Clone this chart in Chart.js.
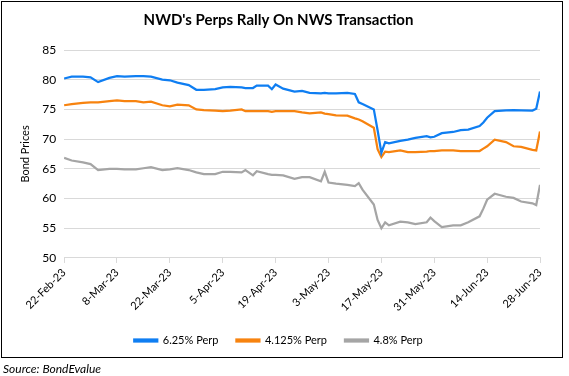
<!DOCTYPE html>
<html>
<head>
<meta charset="utf-8">
<script src="https://cdn.jsdelivr.net/npm/chart.js@4.4.0/dist/chart.umd.min.js"></script>
<style>
  html, body { margin: 0; padding: 0; background: #fff; }
  #wrap { width: 569px; height: 376px; position: relative; }
</style>
</head>
<body>
<div id="wrap"><canvas id="myChart" width="569" height="376"></canvas></div>
<script>
// trading days
const dates = [
  "2023-02-22","2023-02-24","2023-02-27","2023-03-01","2023-03-03","2023-03-06","2023-03-08","2023-03-10",
  "2023-03-13","2023-03-15","2023-03-17","2023-03-20","2023-03-22","2023-03-24","2023-03-27","2023-03-29",
  "2023-03-31","2023-04-03","2023-04-05","2023-04-07","2023-04-10","2023-04-11","2023-04-13","2023-04-14",
  "2023-04-17","2023-04-18","2023-04-19","2023-04-21","2023-04-24","2023-04-26","2023-04-28","2023-05-01",
  "2023-05-02","2023-05-03","2023-05-05","2023-05-08","2023-05-10","2023-05-11","2023-05-12","2023-05-15",
  "2023-05-16","2023-05-17","2023-05-18","2023-05-19","2023-05-22","2023-05-24","2023-05-26","2023-05-29",
  "2023-05-30","2023-05-31","2023-06-02","2023-06-05","2023-06-07","2023-06-09","2023-06-12","2023-06-13",
  "2023-06-14","2023-06-16","2023-06-19","2023-06-21","2023-06-23","2023-06-26","2023-06-27","2023-06-28"
];

const perp625 = [
  80.2, 80.5, 80.5, 80.4, 79.6, 80.3, 80.6, 80.5,
  80.6, 80.6, 80.5, 80.0, 79.9, 79.5, 79.1, 78.3,
  78.3, 78.4, 78.7, 78.8, 78.7, 78.6, 78.6, 79.0,
  79.0, 78.4, 79.2, 78.5, 78.0, 78.1, 77.8, 77.7,
  77.8, 77.7, 77.7, 77.8, 77.6, 76.2, 75.9, 75.0,
  71.5, 67.7, 69.5, 69.3, 69.7, 69.9, 70.2, 70.5,
  70.3, 70.4, 71.0, 71.2, 71.5, 71.6, 72.2, 72.8,
  73.6, 74.7, 74.85, 74.9, 74.85, 74.8, 75.1, 78.0
];

const perp4125 = [
  75.7, 75.9, 76.1, 76.2, 76.2, 76.4, 76.5, 76.4,
  76.4, 76.2, 76.3, 75.7, 75.5, 75.8, 75.7, 75.0,
  74.9, 74.8, 74.7, 74.8, 75.0, 74.7, 74.7, 74.7,
  74.7, 74.6, 74.7, 74.7, 74.7, 74.5, 74.35, 74.5,
  74.3, 74.2, 74.0, 73.95, 73.5, 73.3, 73.0, 71.9,
  68.3, 67.0, 67.9, 67.8, 68.1, 67.8, 67.8, 67.9,
  68.0, 68.0, 68.1, 68.1, 68.0, 68.0, 68.0, 68.4,
  68.8, 69.9, 69.5, 68.8, 68.7, 68.2, 68.1, 71.3
];

const perp48 = [
  66.85, 66.4, 66.1, 65.8, 64.8, 65.0, 65.0, 64.9,
  64.9, 65.1, 65.3, 64.8, 64.9, 65.1, 64.8, 64.4,
  64.1, 64.1, 64.5, 64.5, 64.4, 64.8, 63.9, 64.6,
  64.1, 64.0, 64.0, 63.9, 63.3, 63.6, 63.6, 62.9,
  64.5, 62.7, 62.5, 62.3, 62.1, 62.6, 61.5, 59.0,
  56.4, 55.0, 56.0, 55.5, 56.1, 56.0, 55.7, 56.0,
  56.8, 56.2, 55.2, 55.5, 55.5, 56.0, 57.0, 58.3,
  59.8, 60.8, 60.3, 60.1, 59.5, 59.2, 58.9, 62.3
];

const tickLabels = ["22-Feb-23","8-Mar-23","22-Mar-23","5-Apr-23","19-Apr-23","3-May-23","17-May-23","31-May-23","14-Jun-23","28-Jun-23"];

const seriesNames = ["6.25% Perp", "4.125% Perp", "4.8% Perp"];
const seriesColors = ["#0f7ef2", "#f7830f", "#a5a5a5"];

const start = Date.UTC(2023, 1, 22);
function dayOf(s) {
  const p = s.split("-");
  return Math.round((Date.UTC(+p[0], +p[1] - 1, +p[2]) - start) / 86400000);
}

function toPoints(values) {
  return values.map((v, i) => ({ x: dayOf(dates[i]), y: v }));
}

const datasets = [perp625, perp4125, perp48].map((vals, i) => ({
  label: seriesNames[i],
  data: toPoints(vals),
  borderColor: seriesColors[i],
  backgroundColor: seriesColors[i],
  borderWidth: 2.25,
  pointRadius: 0,
  tension: 0
}));

const frame = {
  id: "frame",
  afterDraw(chart) {
    const ctx = chart.ctx;
    ctx.save();
    ctx.strokeStyle = "#000";
    ctx.lineWidth = 1;
    ctx.strokeRect(1.5, 1.5, 561, 356);
    ctx.fillStyle = "#000";
    ctx.font = "italic 12px Lato, sans-serif";
    ctx.textBaseline = "middle";
    ctx.fillText("Source: BondEvalue", 3, 369);
    ctx.restore();
  }
};

const config = {
  type: "line",
  data: { datasets },
  options: {
    responsive: false,
    animation: false,
    layout: { padding: { left: 17, right: 29, top: 6, bottom: 20 } },
    plugins: {
      title: {
        display: true,
        text: "NWD's Perps Rally On NWS Transaction",
        color: "#000",
        font: { family: "Lato", size: 15, weight: "bold" },
        padding: { top: 5, bottom: 21 }
      },
      legend: {
        position: "bottom",
        labels: {
          boxWidth: 23,
          boxHeight: 2,
          color: "#000",
          font: { family: "Lato", size: 11 },
          padding: 18
        }
      },
      tooltip: { enabled: false }
    },
    scales: {
      x: {
        type: "linear",
        min: 0,
        max: 126,
        ticks: {
          stepSize: 14,
          autoSkip: false,
          maxRotation: 45,
          minRotation: 45,
          color: "#000",
          font: { family: "Lato", size: 11 },
          callback: (v) => tickLabels[Math.round(v / 14)]
        },
        grid: { drawOnChartArea: false, color: "#d9d9d9", tickLength: 5 },
        border: { color: "#d9d9d9" }
      },
      y: {
        min: 50,
        max: 85,
        ticks: { stepSize: 5, color: "#000", font: { family: "Lato", size: 12 }, padding: 8 },
        grid: { color: "#d9d9d9", drawTicks: false },
        border: { display: false },
        title: {
          display: true,
          text: "Bond Prices",
          color: "#000",
          font: { family: "Lato", size: 11 },
          padding: 2
        }
      }
    }
  },
  plugins: [frame]
};

new Chart(document.getElementById("myChart"), config);
</script>
</body>
</html>
